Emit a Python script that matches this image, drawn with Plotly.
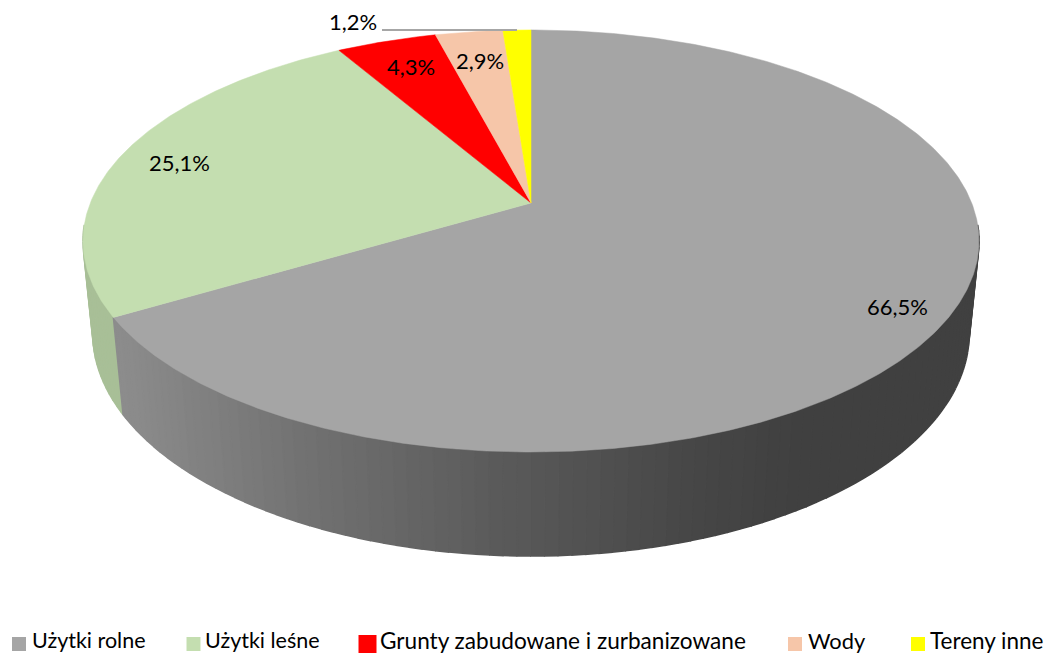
import numpy as np
import plotly.graph_objects as go

categories = ["Użytki rolne", "Użytki leśne", "Grunty zabudowane i zurbanizowane", "Wody", "Tereny inne"]
shares = [66.5, 25.1, 4.3, 2.9, 1.2]

# styles and layout
top_colors = ["#a5a5a5", "#c4deb0", "#ff0000", "#f6c6a9", "#ffff00"]
FONT = "Lato"
LABEL_SIZE = 22
label_xy = [(897, 306.5), (179, 162.5), (411, 66), (480, 60), (353, 21)]
legend_swatch_x = [19, 193.5, 367.5, 795, 918]
legend_text_x = [31, 204, 379, 807, 929]
legend_swatch = [14, 14, 18, 14, 14]
legend_font = [21.5, 21.5, 22.6, 21.8, 22.5]
LEGEND_Y = 644
LEGEND_TEXT_Y = 640
W, H = 1048, 654

# perspective model of the pie disc (pixel scale on the axes)
CX, CY, A, B, K, M, C = 531, 203, 440.7, 204.2, 0.18, 0.0216, 92.9


def project(theta_deg, z=0.0):
    t = np.radians(theta_deg)
    u, v = np.sin(t), np.cos(t)
    w = 1 + K * v + M * z
    return CX + A * u / w, CY - (B * v - C * z) / w


def wall_shade(x):
    return int(round(np.interp(x, [120, 300, 500, 700, 800], [0x8c, 0x72, 0x5a, 0x46, 0x40])))


fig = go.Figure()
total = sum(shares)
edges = np.cumsum([0] + shares) / total * 360

# side wall, back to front; the wall is split exactly where the slices change
STEP = 1.5
cuts = sorted(set(np.arange(96, 264 + STEP, STEP)) | {float(edges[1])})
segments = sorted(zip(cuts[:-1], cuts[1:]), key=lambda s: -abs((s[0] + s[1]) / 2 - 180))
for t0, t1 in segments:
    x1, y1 = project(np.array([t0, t1]), 0)
    x2, y2 = project(np.array([t1, t0]), 1)
    if (t0 + t1) / 2 < edges[1]:
        s = wall_shade(x1.mean())
        col = f"rgb({s},{s},{s})"
    else:
        col = "#a8bf97"
    fig.add_trace(go.Scatter(
        x=list(x1) + list(x2), y=list(y1) + list(y2), mode="lines", fill="toself",
        fillcolor=col, line=dict(color=col, width=1.6), hoverinfo="skip", showlegend=False))

# top face
for i, name in enumerate(categories):
    n = max(8, int((edges[i + 1] - edges[i]) * 2))
    th = np.linspace(edges[i], edges[i + 1], n)
    xs, ys = project(th, 0)
    fig.add_trace(go.Scatter(
        x=[CX] + list(xs) + [CX], y=[CY] + list(ys) + [CY], mode="lines", fill="toself",
        fillcolor=top_colors[i], line=dict(color=top_colors[i], width=0.5),
        name=name, hoverinfo="name", showlegend=False))

# legend row
for i, name in enumerate(categories):
    fig.add_trace(go.Scatter(
        x=[legend_swatch_x[i]], y=[LEGEND_Y], mode="markers", name=name,
        hoverinfo="name", showlegend=False, cliponaxis=False,
        marker=dict(symbol="square", size=legend_swatch[i], color=top_colors[i])))

annotations = [
    dict(x=p[0], y=p[1], xref="x", yref="y", showarrow=False,
         text=f"{v:.1f}%".replace(".", ","),
         font=dict(family=FONT, size=LABEL_SIZE, color="#000000"))
    for v, p in zip(shares, label_xy)
] + [
    dict(x=legend_text_x[i] - 1, y=LEGEND_TEXT_Y, xref="x", yref="y", showarrow=False,
         xanchor="left", yanchor="middle", text=name,
         font=dict(family=FONT, size=legend_font[i], color="#000000"))
    for i, name in enumerate(categories)
]

fig.update_layout(
    width=W, height=H, margin=dict(l=0, r=0, t=0, b=0),
    paper_bgcolor="white", plot_bgcolor="white", showlegend=False,
    xaxis=dict(range=[0, W], visible=False, fixedrange=True),
    yaxis=dict(range=[H, 0], visible=False, fixedrange=True),
    annotations=annotations,
    shapes=[dict(type="line", xref="x", yref="y", x0=382, x1=517, y0=30, y1=30,
                 line=dict(color="#a6a6a6", width=2))],
)
fig.write_html("out.html", config={"displayModeBar": False},
               post_script="document.body.style.margin='0';document.body.style.overflow='hidden';")
